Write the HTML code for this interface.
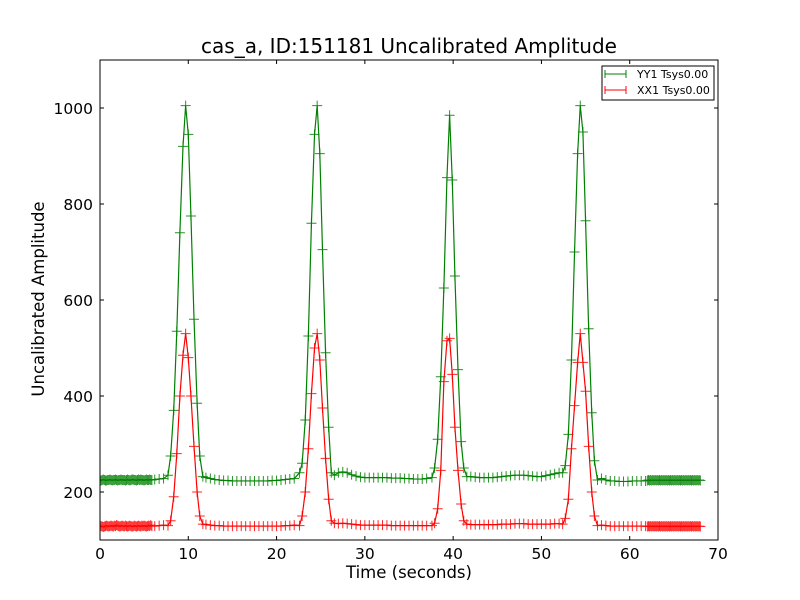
<!DOCTYPE html>
<html><head><meta charset="utf-8"><style>
html,body{margin:0;padding:0;background:#fff;}
svg{display:block;font-family:"DejaVu Sans","Liberation Sans",sans-serif;}
</style></head><body>
<svg id="chart" width="800" height="600">
<rect x="0" y="0" width="800" height="600" fill="#fff"/>
</svg>
<script>
const xTicks=[0,10,20,30,40,50,60,70];
const yTicks=[200,400,600,800,1000];
const times=[0,0.125,0.25,0.375,0.5,0.625,0.75,0.875,1,1.125,1.25,1.375,1.5,1.625,1.75,1.875,2,2.125,2.25,2.375,2.5,2.625,2.75,2.875,3,3.125,3.25,3.375,3.5,3.625,3.75,3.875,4,4.125,4.25,4.375,4.5,4.625,4.75,4.875,5,5.125,5.25,5.375,5.5,5.625,5.75,5.875,
6.2,6.7,7.2,
7.7,8.0,8.35,8.7,9.05,9.4,9.7,10.0,10.3,10.65,11.0,11.3,11.65,
12,12.5,13,13.5,14,14.5,15,15.5,16,16.5,17,17.5,18,18.5,19,19.5,20,20.5,21,21.5,22,
22.6,22.9,23.25,23.6,23.95,24.3,24.6,24.9,25.2,25.55,25.9,26.2,26.55,
27,27.5,28,28.5,29,29.5,30,30.5,31,31.5,32,32.5,33,33.5,34,34.5,35,35.5,36,36.5,37,
37.6,37.9,38.25,38.6,38.95,39.3,39.6,39.9,40.2,40.55,40.9,41.2,41.55,
42,42.5,43,43.5,44,44.5,45,45.5,46,46.5,47,47.5,48,48.5,49,49.5,50,50.5,51,51.5,52,
52.4,52.7,53.05,53.4,53.75,54.1,54.4,54.7,55.0,55.35,55.7,56.0,56.35,
56.8,57.3,57.8,58.3,58.8,59.3,59.8,60.3,60.8,61.3,61.8,
62,62.125,62.25,62.375,62.5,62.625,62.75,62.875,63,63.125,63.25,63.375,63.5,63.625,63.75,63.875,64,64.125,64.25,64.375,64.5,64.625,64.75,64.875,65,65.125,65.25,65.375,65.5,65.625,65.75,65.875,66,66.125,66.25,66.375,66.5,66.625,66.75,66.875,67,67.125,67.25,67.375,67.5,67.625,67.75,67.875,68];
const yy1=[225,224,225,226,225,224,224,225,225,226,225,224,225,225,226,225,224,225,225,226,225,225,225,224,225,226,225,224,225,226,226,225,225,224,225,226,225,226,225,225,224,225,226,225,225,226,225,225,
226,227,228,
235,275,370,535,740,920,1005,945,775,560,385,275,232,
230,228,226,225,224,224,223,223,223,223,223,223,223,223,223,224,224,225,226,227,228,
240,260,350,525,760,945,1005,905,705,490,335,240,235,
240,242,240,236,233,231,230,230,230,230,230,230,229,229,229,228,228,227,227,227,228,
230,250,310,440,625,855,985,850,650,455,305,250,232,
232,231,230,230,230,230,231,232,233,234,235,235,235,234,233,232,232,234,236,238,240,
240,255,320,475,700,905,1005,950,765,540,365,265,225,
228,225,223,223,222,222,222,223,223,223,223,
224,225,224,225,224,225,224,225,224,225,224,225,224,225,224,225,224,225,224,225,224,225,224,225,224,225,224,225,224,225,224,225,224,225,224,225,224,225,224,225,224,225,224,225,224,225,224,225,224];
const xx1=[128,129,128,127,128,129,130,129,128,129,130,129,128,130,129,131,130,129,128,129,130,129,128,130,129,128,129,130,129,128,128,130,129,128,129,130,129,128,130,129,130,129,128,129,130,129,131,129,
129,130,131,
130,140,190,280,400,485,530,480,400,295,200,150,133,
132,131,130,130,129,129,129,129,129,129,129,129,129,129,129,129,129,129,130,130,131,
130,150,200,290,405,500,530,475,375,270,185,140,135,
134,135,134,133,132,131,131,131,131,131,131,131,130,130,130,130,130,130,130,130,130,
130,135,165,245,430,515,520,445,335,245,175,140,133,
132,132,132,132,132,132,132,133,133,133,134,134,134,133,133,133,133,133,133,134,134,
133,145,185,290,380,470,530,470,410,295,200,150,130,
131,130,129,129,129,129,129,129,129,129,129,
128,129,128,129,128,129,128,129,128,129,128,129,128,129,128,129,128,129,128,129,128,129,128,129,128,129,128,129,128,129,128,129,128,129,128,129,128,129,128,129,128,129,128,129,128,129,128,129,128];
const seriesNames=["YY1 Tsys0.00","XX1 Tsys0.00"];

const NS="http://www.w3.org/2000/svg";
const svg=document.getElementById('chart');
const L=100,R=718,T=60,B=540,X0=0,X1=70,Y0=100,Y1=1100;
const sx=v=>L+(v-X0)/(X1-X0)*(R-L);
const sy=v=>B-(v-Y0)/(Y1-Y0)*(B-T);
function mk(tag,attrs,parent){const e=document.createElementNS(NS,tag);for(const k in attrs)e.setAttribute(k,attrs[k]);(parent||svg).appendChild(e);return e;}

const clip=mk('clipPath',{id:'pc'});mk('rect',{x:L,y:T,width:R-L,height:B-T},clip);

function drawSeries(vals,color,name){
  const g=mk('g',{'clip-path':'url(#pc)'});
  
  
  const pts=times.map((t,i)=>sx(t).toFixed(2)+','+sy(vals[i]).toFixed(2)).join(' ');
  const pl=mk('polyline',{points:pts,fill:'none',stroke:color,'stroke-width':1.2},g);
  
  
  let d='';
  times.forEach((t,i)=>{const x=sx(t),y=sy(vals[i]);d+=`M${(x-5).toFixed(2)},${y.toFixed(2)}h10M${x.toFixed(2)},${(y-5).toFixed(2)}v10`;});
  const m=mk('path',{d:d,stroke:color,'stroke-width':1,fill:'none','stroke-opacity':0.85},g);
  
  
}
drawSeries(yy1,'#008000','series-yy1');
drawSeries(xx1,'#ff0000','series-xx1');

const frame=mk('rect',{x:L,y:T,width:R-L,height:B-T,fill:'none',stroke:'#000','stroke-width':1});



xTicks.forEach(v=>{
  const x=sx(v);
  mk('line',{x1:x,y1:B,x2:x,y2:B-4,stroke:'#000'});
  mk('line',{x1:x,y1:T,x2:x,y2:T+4,stroke:'#000'});
  const t=mk('text',{x:x,y:B+16+3,'text-anchor':'middle','font-size':15.5});
  t.textContent=v;
  
  
});
yTicks.forEach(v=>{
  const y=sy(v);
  mk('line',{x1:L,y1:y,x2:L+4,y2:y,stroke:'#000'});
  mk('line',{x1:R,y1:y,x2:R-4,y2:y,stroke:'#000'});
  const t=mk('text',{x:L-7,y:y+6,'text-anchor':'end','font-size':15.5});
  t.textContent=v;
  
  
});

const title=mk('text',{x:(L+R)/2,y:53,'text-anchor':'middle','font-size':20});
title.textContent='cas_a, ID:151181 Uncalibrated Amplitude';


const xl=mk('text',{x:(L+R)/2,y:578,'text-anchor':'middle','font-size':16.5});
xl.textContent='Time (seconds)';


const yl=mk('text',{x:0,y:0,'text-anchor':'middle','font-size':16.5,transform:`translate(44,${(T+B)/2-1}) rotate(-90)`});
yl.textContent='Uncalibrated Amplitude';



const lg=mk('g',{});


mk('rect',{x:602,y:66,width:112,height:34,fill:'#fff',stroke:'#000','stroke-width':1},lg);
[['#008000',seriesNames[0],74],['#ff0000',seriesNames[1],90]].forEach(([c,n,y],i)=>{
  const e=mk('g',{},lg);
  
  
  mk('line',{x1:605,y1:y,x2:626,y2:y,stroke:c},e);
  mk('path',{d:`M605,${y-4}v8M626,${y-4}v8`,stroke:c},e);
  const t=mk('text',{x:637,y:y+4,'font-size':11},e);
  t.textContent=n;
});
</script>
</body></html>
